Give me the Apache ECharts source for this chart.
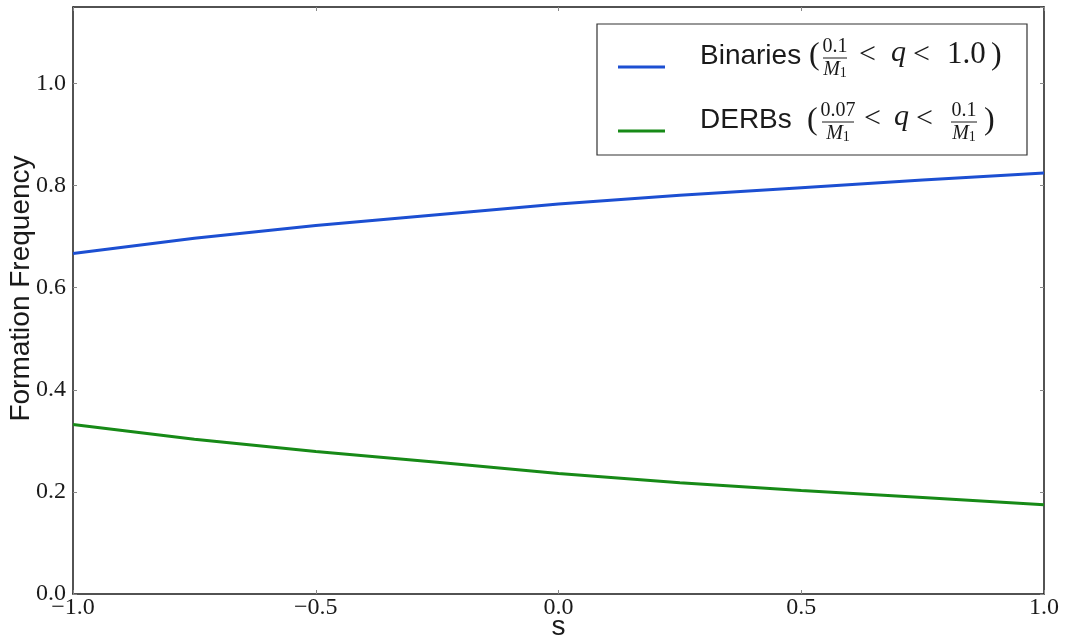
<!DOCTYPE html>
<html>
<head>
<meta charset="utf-8">
<title>Formation Frequency vs s</title>
<script src="https://cdn.jsdelivr.net/npm/echarts@6/dist/echarts.min.js"></script>
<style>
  html, body { margin: 0; padding: 0; background: #ffffff; }
  #chart { width: 1065px; height: 636px; }
</style>
</head>
<body>
<div id="chart"></div>
<script>
// Slope parameter s and the formation frequency of each population
const sValues = [-1.0, -0.75, -0.5, -0.25, 0.0, 0.25, 0.5, 0.75, 1.0];
const binaries = [0.667, 0.697, 0.722, 0.743, 0.764, 0.781, 0.796, 0.811, 0.825];
const derbs = [0.332, 0.303, 0.279, 0.258, 0.236, 0.218, 0.203, 0.189, 0.175];

const xTicks = [-1.0, -0.5, 0.0, 0.5, 1.0];
const yTicks = [0.0, 0.2, 0.4, 0.6, 0.8, 1.0];

const seriesNames = ['Binaries', 'DERBs'];

const SERIF = '"Liberation Serif", "DejaVu Serif", serif';
const SANS = '"Liberation Sans", Arial, sans-serif';
const INK = '#1a1a1a';

const fmtTick = v => v.toFixed(1).replace('-', '\u2212');
const isTick = (list, v) => list.some(t => Math.abs(t - v) < 1e-9);

function pairs(xs, ys) {
  return xs.map((x, i) => [x, ys[i]]);
}

// Pieces of the TeX-style legend annotations
function txt(x, y, s, size) {
  return {
    type: 'text', x: x, y: y, z: 10, silent: true,
    style: { text: s, fontFamily: SERIF, fontSize: size, fill: INK,
             align: 'left', verticalAlign: 'middle' }
  };
}
function italic(x, y, s, size) {
  const t = txt(x, y, s, size);
  t.style.fontStyle = 'italic';
  return t;
}
function frac(cx, barY, num, halfW) {
  return [
    { type: 'text', x: cx, y: barY - 11, z: 10, silent: true,
      style: { text: num, fontFamily: SERIF, fontSize: 20, fill: INK,
               align: 'center', verticalAlign: 'middle' } },
    { type: 'line', z: 10, silent: true,
      shape: { x1: cx - halfW, y1: barY, x2: cx + halfW, y2: barY },
      style: { stroke: INK, lineWidth: 1 } },
    { type: 'text', x: cx, y: barY + 12, z: 10, silent: true,
      style: { text: '{m|M}{d|1}', fontFamily: SERIF, fontSize: 20, fill: INK,
               align: 'center', verticalAlign: 'middle',
               rich: { m: { fontStyle: 'italic', fontFamily: SERIF, fontSize: 20, fill: INK },
                       d: { fontFamily: SERIF, fontSize: 14, fill: INK, verticalAlign: 'bottom', padding: [6, 0, 0, 0] } } } }
  ];
}

const row1 = 55, row2 = 119;
const legendMath = [].concat(
  [txt(809, row1 + 1, '(', 32)],
  frac(835, 58, '0.1', 12),
  [txt(859, row1, '<', 30), italic(891, row1 - 2, 'q', 30), txt(913, row1, '<', 30),
   txt(947, row1, '1.0', 31), txt(991, row1 + 1, ')', 32)],
  [txt(807, row2 + 2, '(', 32)],
  frac(838, 122, '0.07', 16),
  [txt(864, row2, '<', 30), italic(894, row2 - 2, 'q', 30), txt(916, row2, '<', 30)],
  frac(964, 122, '0.1', 13),
  [txt(984, row2 + 2, ')', 32)]
);

const chart = echarts.init(document.getElementById('chart'), null, { renderer: 'canvas' });

const baseAxisLine = { show: true, onZero: false, lineStyle: { color: INK, width: 1.5 } };
const baseTick = { show: true, inside: true, length: 4, lineStyle: { color: '#888', width: 1 } };

chart.setOption({
  backgroundColor: '#ffffff',
  animation: false,
  grid: { left: 73, right: 21, top: 7, bottom: 42, containLabel: false, outerBoundsMode: 'none' },
  xAxis: [
    {
      type: 'value', position: 'bottom', min: -1, max: 1, interval: 0.5,
      name: 's', nameLocation: 'middle', nameGap: 19, nameMoveOverlap: false,
      nameTextStyle: { fontFamily: SANS, fontSize: 28, color: INK },
      axisLine: baseAxisLine, axisTick: baseTick, splitLine: { show: false },
      axisLabel: { fontFamily: SERIF, fontSize: 24, color: INK, margin: 2,
                   formatter: v => (isTick(xTicks, v) ? fmtTick(v) : '') }
    },
    {
      type: 'value', position: 'top', min: -1, max: 1, interval: 0.5,
      axisLine: baseAxisLine, axisTick: baseTick, splitLine: { show: false },
      axisLabel: { show: false }
    }
  ],
  yAxis: [
    {
      type: 'value', position: 'left', min: 0, max: 1.15, interval: 0.2,
      name: 'Formation Frequency', nameLocation: 'middle', nameGap: 38, nameRotate: 90,
      nameMoveOverlap: false,
      nameTextStyle: { fontFamily: SANS, fontSize: 28, color: INK, padding: [0, 0, 0, 24] },
      axisLine: baseAxisLine, axisTick: baseTick, splitLine: { show: false },
      axisLabel: { fontFamily: SERIF, fontSize: 24, color: INK, margin: 7,
                   showMaxLabel: false,
                   formatter: v => (isTick(yTicks, v) ? fmtTick(v) : '') }
    },
    {
      type: 'value', position: 'right', min: 0, max: 1.15, interval: 0.2,
      axisLine: baseAxisLine, axisTick: baseTick, splitLine: { show: false },
      axisLabel: { show: false }
    }
  ],
  legend: {
    data: seriesNames,
    orient: 'vertical',
    left: 618, top: 42, padding: 0,
    icon: 'rect', itemWidth: 47, itemHeight: 3, itemGap: 14,
    selectedMode: false, z: 6,
    formatter: '{n|{name}}',
    textStyle: {
      rich: {
        n: { fontFamily: SANS, fontSize: 28, color: INK, lineHeight: 32, padding: [0, 0, 22, 30] }
      }
    }
  },
  graphic: [
    { type: 'rect', z: 5, silent: true,
      shape: { x: 597, y: 24, width: 430, height: 131 },
      style: { fill: '#ffffff', stroke: '#333333', lineWidth: 1.2 } }
  ].concat(legendMath),
  series: [
    {
      name: seriesNames[0], type: 'line', xAxisIndex: 0, yAxisIndex: 0,
      data: pairs(sValues, binaries), smooth: false,
      showSymbol: false, symbol: 'none',
      lineStyle: { color: '#1c4fd2', width: 3 }, itemStyle: { color: '#1c4fd2' }
    },
    {
      name: seriesNames[1], type: 'line', xAxisIndex: 0, yAxisIndex: 0,
      data: pairs(sValues, derbs), smooth: false,
      showSymbol: false, symbol: 'none',
      lineStyle: { color: '#178a17', width: 3 }, itemStyle: { color: '#178a17' }
    }
  ]
});
</script>
</body>
</html>
